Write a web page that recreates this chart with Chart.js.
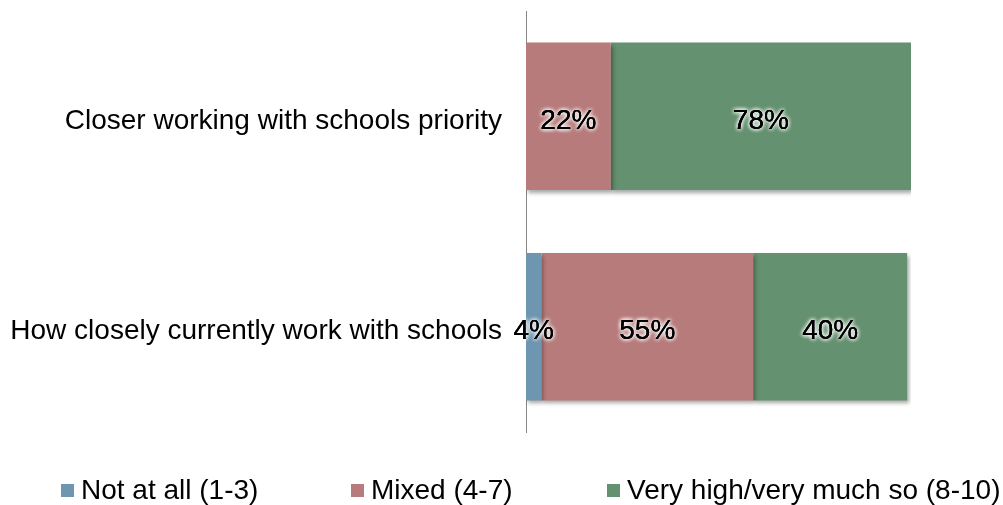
<!DOCTYPE html>
<html>
<head>
<meta charset="utf-8">
<script src="https://cdn.jsdelivr.net/npm/chart.js@4/dist/chart.umd.min.js"></script>
<style>
  html, body { margin: 0; padding: 0; background: #fff; }
  #wrap { width: 1003px; height: 505px; }
</style>
</head>
<body>
<div id="wrap"><canvas id="chart" width="1003" height="505"></canvas></div>
<script>
// Chart data
const categories = ['Closer working with schools priority', 'How closely currently work with schools'];
const seriesNames = ['Not at all (1-3)', 'Mixed (4-7)', 'Very high/very much so (8-10)'];
const notAtAll = [0, 4];
const mixed = [22, 55];
const veryHigh = [78, 40];
const seriesColors = ['#6f96b1', '#b87b7b', '#64916f'];

// drop shadow under the bars
const barShadow = {
    id: 'barShadow',
    beforeDatasetsDraw(chart) {
        const ctx = chart.ctx;
        ctx.save();
        ctx.shadowColor = 'rgba(0,0,0,0.35)';
        ctx.shadowBlur = 4;
        ctx.shadowOffsetX = 2;
        ctx.shadowOffsetY = 3;
    },
    afterDatasetsDraw(chart) {
        chart.ctx.restore();
    }
};

// value labels with white glow
const valueLabels = {
    id: 'valueLabels',
    afterDatasetsDraw(chart) {
        const ctx = chart.ctx;
        ctx.save();
        ctx.font = '28px "Liberation Sans", Arial, sans-serif';
        ctx.textAlign = 'center';
        ctx.textBaseline = 'middle';
        chart.data.datasets.forEach((ds, i) => {
            const meta = chart.getDatasetMeta(i);
            meta.data.forEach((bar, j) => {
                const v = ds.data[j];
                if (!v) return;
                const x = (bar.x + bar.base) / 2;
                const y = bar.y + 5;
                const txt = v + '%';
                ctx.shadowColor = 'rgba(255,255,255,1)';
                ctx.shadowBlur = 4;
                ctx.fillStyle = '#000';
                for (let k = 0; k < 3; k++) ctx.fillText(txt, x, y);
                ctx.shadowBlur = 0;
                ctx.fillText(txt, x, y);
            });
        });
        ctx.restore();
    }
};

// legend along the bottom
const bottomLegend = {
    id: 'bottomLegend',
    afterDraw(chart) {
        const ctx = chart.ctx;
        const xs = [61, 351, 607];
        const y = 490;
        ctx.save();
        ctx.font = '28px "Liberation Sans", Arial, sans-serif';
        ctx.textBaseline = 'middle';
        ctx.textAlign = 'left';
        seriesNames.forEach((name, i) => {
            ctx.fillStyle = seriesColors[i];
            ctx.fillRect(xs[i], y - 6, 13, 13);
            ctx.fillStyle = '#000';
            ctx.fillText(name, xs[i] + 20, y + 1);
        });
        ctx.restore();
    }
};

new Chart(document.getElementById('chart'), {
    type: 'bar',
    data: {
        labels: categories,
        datasets: [
            { label: seriesNames[0], data: notAtAll, backgroundColor: seriesColors[0] },
            { label: seriesNames[1], data: mixed, backgroundColor: seriesColors[1] },
            { label: seriesNames[2], data: veryHigh, backgroundColor: seriesColors[2] }
        ]
    },
    options: {
        indexAxis: 'y',
        responsive: false,
        animation: false,
        categoryPercentage: 0.7,
        barPercentage: 1,
        layout: { padding: { top: 11, bottom: 73, left: 0, right: 92 } },
        plugins: {
            legend: { display: false },
            tooltip: { enabled: false }
        },
        scales: {
            x: {
                stacked: true,
                min: 0,
                max: 100,
                display: false
            },
            y: {
                stacked: true,
                grid: { display: false, drawTicks: false },
                border: { display: true, color: '#868686', width: 1 },
                ticks: {
                    color: '#000',
                    padding: 24,
                    labelOffset: 5,
                    font: { family: '"Liberation Sans", Arial, sans-serif', size: 28 }
                },
                afterFit(scale) {
                    scale.width = 526;
                    scale.paddingTop = 0;
                    scale.paddingBottom = 0;
                }
            }
        }
    },
    plugins: [barShadow, valueLabels, bottomLegend]
});
</script>
</body>
</html>
